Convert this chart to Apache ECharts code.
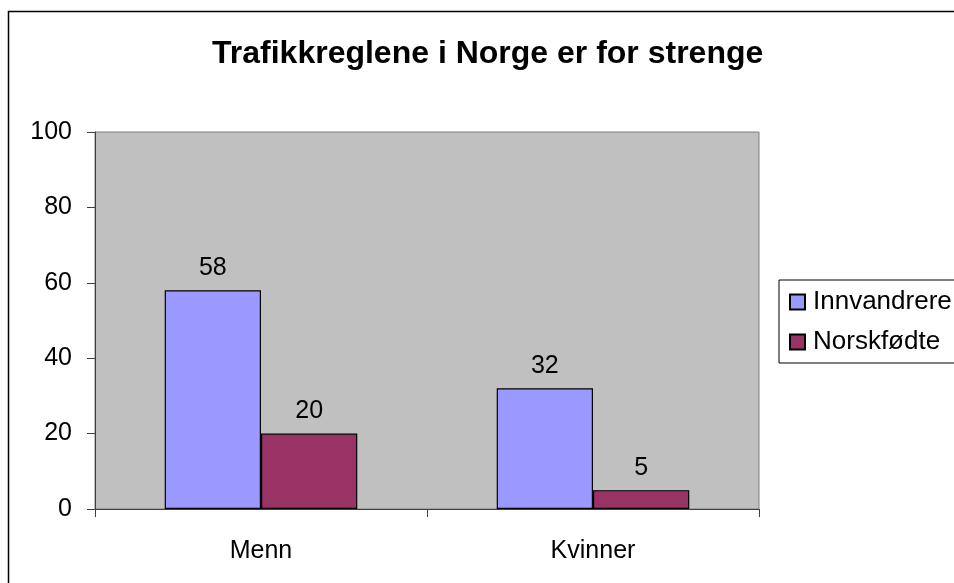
<!DOCTYPE html>
<html>
<head>
<meta charset="utf-8">
<script src="https://cdn.jsdelivr.net/npm/echarts@6/dist/echarts.min.js"></script>
<style>
  html, body { margin: 0; padding: 0; background: #fff; }
  #chart { width: 954px; height: 583px; }
</style>
</head>
<body>
<div id="chart"></div>
<script>
const categories = ['Menn', 'Kvinner'];
const innvandrere = [58, 32];
const norskfodte = [20, 5];
const seriesNames = ['Innvandrere', 'Norskfødte'];

const font = '"Liberation Sans", Arial, sans-serif';

const chart = echarts.init(document.getElementById('chart'));

const barLabel = {
  show: true,
  position: 'top',
  distance: 10,
  color: '#000',
  fontSize: 25,
  fontFamily: font
};

chart.setOption({
  animation: false,
  color: ['#9999FF', '#993366'],
  title: {
    text: 'Trafikkreglene i Norge er for strenge',
    left: 212,
    top: 38,
    padding: 0,
    textStyle: { fontSize: 32, fontWeight: 'bold', color: '#000', fontFamily: font }
  },
  legend: {
    data: seriesNames,
    orient: 'vertical',
    left: 779,
    top: 280,
    borderColor: '#000',
    borderWidth: 1,
    padding: [9, 40, 8, 10],
    itemGap: 14,
    itemWidth: 15,
    itemHeight: 15,
    icon: 'rect',
    textStyle: { fontSize: 26, color: '#000', fontFamily: font, padding: [0, 0, 0, 3] }
  },
  grid: {
    left: 95,
    right: 195,
    top: 132,
    bottom: 74,
    show: true,
    backgroundColor: '#C0C0C0',
    borderColor: '#808080',
    borderWidth: 1
  },
  xAxis: {
    type: 'category',
    data: categories,
    axisLine: { lineStyle: { color: '#404040', width: 1 } },
    axisTick: { show: true, length: 8, lineStyle: { color: '#404040' } },
    axisLabel: { margin: 30, fontSize: 25, color: '#000', fontFamily: font }
  },
  yAxis: {
    type: 'value',
    min: 0,
    max: 100,
    interval: 20,
    splitLine: { show: false },
    axisLine: { show: true, lineStyle: { color: '#404040', width: 1 } },
    axisTick: { show: true, length: 8, lineStyle: { color: '#404040' } },
    axisLabel: { margin: 23, fontSize: 25, color: '#000', fontFamily: font }
  },
  graphic: [{
    type: 'rect',
    shape: { x: 8.5, y: 11.5, width: 1200, height: 1200 },
    style: { fill: 'none', stroke: '#000', lineWidth: 1.5 },
    silent: true
  }],
  series: [
    {
      name: seriesNames[0],
      type: 'bar',
      data: innvandrere,
      barGap: '0%',
      barCategoryGap: '42%',
      itemStyle: { borderColor: '#000', borderWidth: 1.2 },
      label: barLabel
    },
    {
      name: seriesNames[1],
      type: 'bar',
      data: norskfodte,
      itemStyle: { borderColor: '#000', borderWidth: 1.2 },
      label: barLabel
    }
  ]
});
</script>
</body>
</html>
